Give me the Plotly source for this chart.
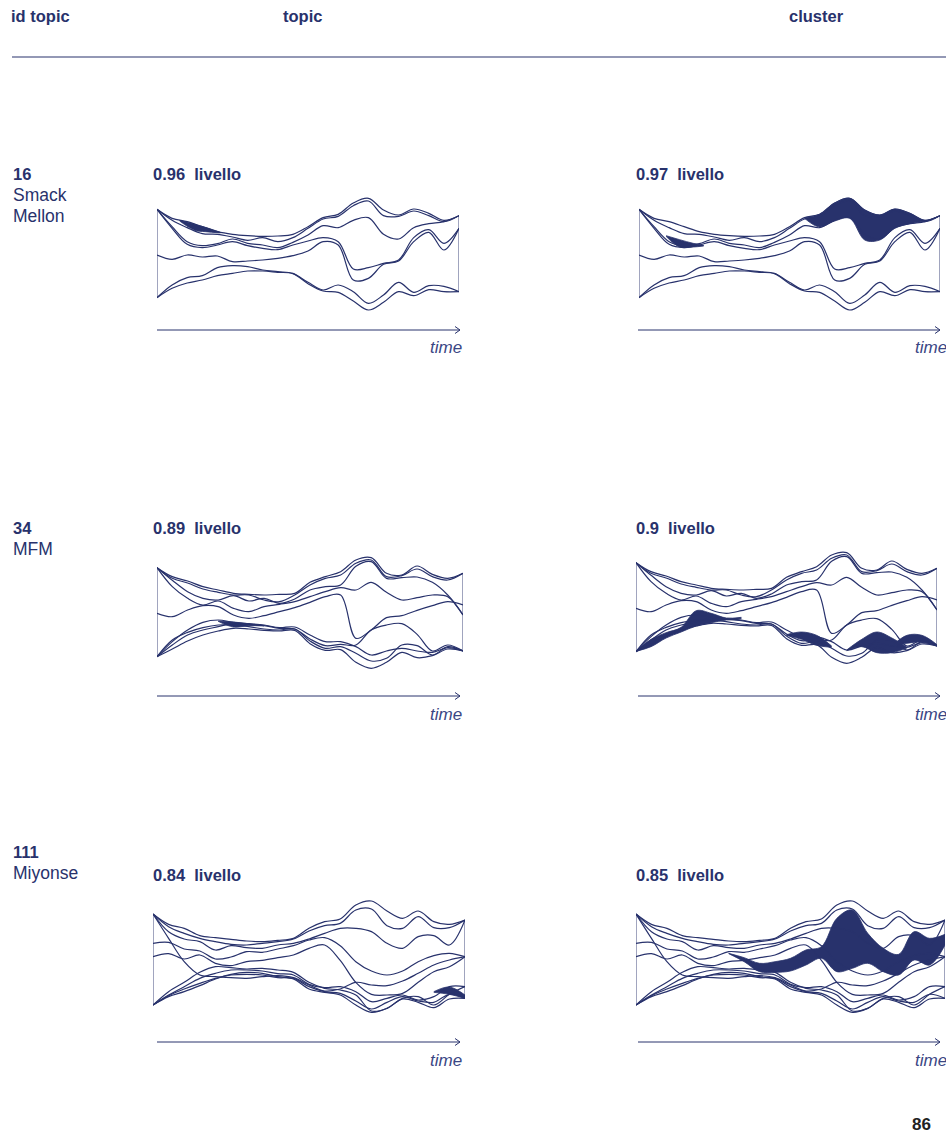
import plotly.graph_objects as go

W, H = 946, 1136
NAVY = "#28326c"
EDGE = "rgba(40,50,108,0.55)"
FONT = "Liberation Sans, Arial, Helvetica, sans-serif"

t = list(range(21))  # time steps

# ---- 16 · Smack Mellon : stream boundaries (depth below panel top, stream units)
r1_a = [43, 70, 80, 95, 110, 118, 122, 124, 123, 118, 95, 68, 58, 24, 10, 45, 60, 42, 55, 76, 62]
r1_b = [43, 76, 98, 116, 118, 126, 136, 128, 140, 128, 100, 72, 64, 32, 18, 62, 64, 48, 62, 80, 62]
r1_c = [43, 95, 140, 152, 146, 132, 145, 150, 158, 142, 120, 92, 98, 76, 68, 118, 132, 98, 86, 80, 62]
r1_d = [43, 100, 148, 158, 150, 140, 152, 160, 164, 150, 138, 128, 140, 222, 218, 205, 195, 128, 104, 145, 100]
r1_e = [180, 193, 180, 186, 183, 200, 198, 195, 190, 182, 168, 140, 150, 255, 250, 208, 198, 140, 112, 165, 100]
r1_f = [308, 270, 248, 242, 218, 212, 215, 225, 230, 235, 262, 285, 270, 290, 325, 300, 262, 292, 272, 274, 290]
r1_g = [308, 280, 264, 255, 242, 235, 228, 228, 232, 236, 266, 288, 292, 318, 345, 322, 290, 302, 284, 290, 290]

r1_topic_fill_t = [1.5, 2.5, 3.2, 4.2]
r1_topic_fill_hi = [76, 88, 97, 112]
r1_topic_fill_lo = [78, 106, 110, 114]

r1_cl_wedge_t = [1.8, 2.7, 3.6, 4.3]
r1_cl_wedge_hi = [122, 134, 145, 151]
r1_cl_wedge_lo = [124, 156, 156, 153]
r1_cl_band_t = t[11:]
r1_cl_band_lo = [70, 96, 78, 70, 135, 135, 100, 86, 78, 62]

# ---- 34 · MFM
r2_a = [68, 95, 108, 125, 135, 145, 148, 150, 148, 145, 112, 95, 80, 45, 38, 85, 90, 63, 88, 100, 85]
r2_b = [68, 100, 114, 132, 142, 150, 150, 165, 170, 150, 120, 100, 90, 55, 45, 95, 92, 72, 95, 105, 85]
r2_c = [68, 106, 140, 160, 165, 152, 168, 160, 175, 162, 135, 125, 120, 64, 50, 100, 98, 96, 112, 150, 210]
r2_d = [68, 125, 160, 180, 168, 190, 200, 185, 178, 170, 155, 140, 128, 135, 112, 142, 165, 158, 150, 155, 210]
r2_e = [205, 215, 195, 182, 185, 210, 220, 212, 200, 188, 172, 155, 150, 280, 255, 218, 212, 196, 182, 170, 180]
r2_f = [335, 300, 270, 255, 245, 235, 238, 242, 250, 252, 282, 302, 298, 300, 255, 240, 236, 268, 318, 300, 318]
r2_g = [335, 285, 262, 248, 240, 240, 245, 252, 255, 252, 288, 310, 305, 325, 348, 340, 300, 302, 330, 305, 318]
r2_h = [335, 312, 288, 270, 258, 250, 252, 256, 258, 256, 296, 316, 314, 352, 370, 352, 322, 338, 332, 312, 318]
r2_i = [335, 290, 255, 232, 225, 232, 236, 240, 248, 246, 270, 290, 290, 305, 330, 318, 310, 318, 322, 308, 318]

r2_topic_fill_t = [4, 5, 6, 7]
r2_topic_fill_hi = [228, 231, 236, 242]
r2_topic_fill_lo = [229, 246, 242, 243]

r2_cl_w1_t = [0, 1, 2, 3, 4, 5, 6, 7]
r2_cl_w1_hi = [334, 298, 278, 262, 212, 220, 234, 232]
r2_cl_w1_lo = [334, 320, 294, 276, 258, 248, 240, 236]
r2_cl_w2_t = [10, 11, 12, 13]
r2_cl_w2_hi = [284, 276, 286, 318]
r2_cl_w2_lo = [286, 298, 316, 322]
r2_cl_w3_t = [14, 15, 16, 17, 18]
r2_cl_w3_hi = [330, 298, 276, 294, 322]
r2_cl_w3_lo = [332, 320, 338, 338, 324]
r2_cl_w4_t = [17, 18, 19, 20]
r2_cl_w4_hi = [318, 286, 286, 314]
r2_cl_w4_lo = [320, 310, 306, 316]

# ---- 111 · Miyonse
r3_a = [57, 88, 100, 122, 128, 133, 138, 140, 136, 130, 100, 80, 72, 30, 18, 48, 70, 48, 80, 88, 75]
r3_b = [57, 95, 115, 130, 140, 148, 150, 145, 140, 132, 108, 92, 85, 45, 42, 92, 100, 65, 98, 98, 75]
r3_c = [57, 110, 132, 140, 165, 152, 158, 160, 150, 145, 132, 115, 100, 100, 110, 145, 160, 125, 122, 150, 75]
r3_d = [145, 142, 162, 168, 192, 186, 170, 172, 162, 152, 135, 128, 152, 200, 228, 240, 228, 200, 182, 175, 185]
r3_e = [185, 176, 192, 180, 205, 212, 200, 196, 188, 180, 160, 150, 196, 262, 298, 300, 295, 262, 230, 215, 185]
r3_f = [57, 130, 200, 240, 245, 248, 250, 245, 242, 248, 270, 288, 282, 262, 270, 272, 258, 235, 210, 195, 185]
r3_g = [330, 290, 262, 232, 215, 218, 222, 220, 225, 232, 262, 280, 285, 300, 348, 340, 310, 305, 330, 298, 275]
r3_h = [330, 300, 275, 250, 235, 225, 225, 228, 236, 240, 268, 278, 275, 290, 320, 310, 300, 315, 305, 275, 275]
r3_i = [330, 305, 290, 272, 252, 238, 232, 235, 245, 252, 282, 292, 300, 330, 352, 340, 312, 322, 338, 312, 310]
r3_j = [330, 302, 282, 265, 250, 240, 238, 240, 248, 250, 275, 290, 295, 318, 342, 322, 305, 318, 322, 298, 310]

r3_topic_fill_t = [18, 19, 20]
r3_topic_fill_hi = [290, 276, 300]
r3_topic_fill_lo = [292, 298, 310]

r3_cl_band_t = t[6:]
r3_cl_band_hi = [175, 188, 205, 200, 190, 165, 155, 70, 45, 115, 160, 178, 110, 130, 118]
r3_cl_band_lo = [176, 200, 230, 232, 228, 210, 190, 230, 220, 205, 230, 240, 195, 210, 150]

# ---- labels
header_labels = ["id topic", "topic", "cluster"]
topic_ids = ["16", "34", "111"]
topic_names = [["Smack", "Mellon"], ["MFM"], ["Miyonse"]]
topic_levels = ["0.96", "0.89", "0.84"]
cluster_levels = ["0.97", "0.9", "0.85"]
page_number = "86"

r1_curves = [r1_a, r1_b, r1_c, r1_d, r1_e, r1_f, r1_g]
r2_curves = [r2_a, r2_b, r2_c, r2_d, r2_e, r2_f, r2_g, r2_h, r2_i]
r3_curves = [r3_a, r3_b, r3_c, r3_d, r3_e, r3_f, r3_g, r3_h, r3_i, r3_j]

panels = [
    (r1_curves, [(r1_topic_fill_t, r1_topic_fill_hi, r1_topic_fill_lo)], 157, 459, 195),
    (r1_curves, [(r1_cl_wedge_t, r1_cl_wedge_hi, r1_cl_wedge_lo),
                 (r1_cl_band_t, r1_a[11:], r1_cl_band_lo)], 639, 940, 195),
    (r2_curves, [(r2_topic_fill_t, r2_topic_fill_hi, r2_topic_fill_lo)], 157, 463, 545),
    (r2_curves, [(r2_cl_w1_t, r2_cl_w1_hi, r2_cl_w1_lo),
                 (r2_cl_w2_t, r2_cl_w2_hi, r2_cl_w2_lo),
                 (r2_cl_w3_t, r2_cl_w3_hi, r2_cl_w3_lo),
                 (r2_cl_w4_t, r2_cl_w4_hi, r2_cl_w4_lo)], 636, 937, 540),
    (r3_curves, [(r3_topic_fill_t, r3_topic_fill_hi, r3_topic_fill_lo)], 153, 465, 895),
    (r3_curves, [(r3_cl_band_t, r3_cl_band_hi, r3_cl_band_lo)], 636, 945, 895),
]

PANEL_H = 130  # pixel height of a stream panel frame
fig = go.Figure()
layout_axes = {}
for k, (curves, fills, x0, x1, top) in enumerate(panels, start=1):
    sfx = "" if k == 1 else str(k)
    xa, ya = "x" + sfx, "y" + sfx
    layout_axes["xaxis" + sfx] = dict(domain=[x0 / W, x1 / W], range=[0, 20], visible=False, anchor=ya)
    layout_axes["yaxis" + sfx] = dict(domain=[1 - (top + PANEL_H) / H, 1 - top / H], range=[390, 0],
                                      visible=False, anchor=xa)
    common = dict(xaxis=xa, yaxis=ya, hoverinfo="skip", mode="lines")
    # filled layers
    for ft, hi, lo in fills:
        fig.add_trace(go.Scatter(x=ft, y=hi, line=dict(color=NAVY, width=0.8, shape="spline"), **common))
        fig.add_trace(go.Scatter(x=ft, y=lo, line=dict(color=NAVY, width=0.8, shape="spline"),
                                 fill="tonexty", fillcolor=NAVY, **common))
    # boundary lines
    for c in curves:
        fig.add_trace(go.Scatter(x=t, y=c, line=dict(color=NAVY, width=1.2, shape="spline"), **common))
    # vertical edges at first and last time step
    first = [c[0] for c in curves]
    last = [c[-1] for c in curves]
    fig.add_trace(go.Scatter(x=[t[0], t[0]], y=[min(first), max(first)],
                             line=dict(color=EDGE, width=1.6), **common))
    fig.add_trace(go.Scatter(x=[t[-1], t[-1]], y=[min(last), max(last)],
                             line=dict(color=EDGE, width=1.6), **common))


def px(x):
    return x / W


def py(y):
    return 1 - y / H


shapes = []
annotations = []


def text(x, y, s, size=16, bold=False, italic=False, color=NAVY, anchor="left"):
    if bold:
        s = "<b>" + s + "</b>"
    if italic:
        s = "<i>" + s + "</i>"
    annotations.append(dict(x=px(x), y=py(y), xref="paper", yref="paper", text=s, showarrow=False,
                            xanchor=anchor, yanchor="middle",
                            font=dict(family=FONT, size=size, color=color)))


# header
text(9, 16, header_labels[0], size=16.5, bold=True)
text(281, 16, header_labels[1], size=16.5, bold=True)
text(787, 16, header_labels[2], size=16.5, bold=True)
shapes.append(dict(type="line", xref="paper", yref="paper", x0=px(12), x1=px(946), y0=py(57), y1=py(57),
                   line=dict(color=NAVY, width=1.2)))

row_label_y = [174, 528, 852]
row_level_y = [174, 528, 875]
row_arrow_y = [330, 696, 1042]
for r in range(3):
    text(11, row_label_y[r], topic_ids[r], size=16.5, bold=True)
    for j, nm in enumerate(topic_names[r]):
        text(11, row_label_y[r] + 21 * (j + 1), nm, size=17.5)
    text(151, row_level_y[r], topic_levels[r] + "\u00a0\u00a0livello", size=16.5, bold=True)
    text(634, row_level_y[r], cluster_levels[r] + "\u00a0\u00a0livello", size=16.5, bold=True)
    ay = row_arrow_y[r]
    for ax0, ax1, tx in [(157, 460, 428), (638, 940, 913)]:
        shapes.append(dict(type="line", xref="paper", yref="paper", x0=px(ax0), x1=px(ax1),
                           y0=py(ay), y1=py(ay), line=dict(color=NAVY, width=1)))
        shapes.append(dict(type="path", xref="paper", yref="paper",
                           path=f"M {px(ax1 - 5)},{py(ay - 3.5)} L {px(ax1)},{py(ay)} L {px(ax1 - 5)},{py(ay + 3.5)}",
                           line=dict(color=NAVY, width=1)))
        text(tx, ay + 18, "time", size=17, italic=True, color="#3a4684")

text(933, 1124, page_number, size=17, bold=True, color="#222222", anchor="right")

fig.update_layout(
    width=W, height=H, margin=dict(l=0, r=0, t=0, b=0),
    paper_bgcolor="white", plot_bgcolor="rgba(0,0,0,0)",
    showlegend=False, shapes=shapes, annotations=annotations,
    **layout_axes,
)

fig.write_html("out.html")
